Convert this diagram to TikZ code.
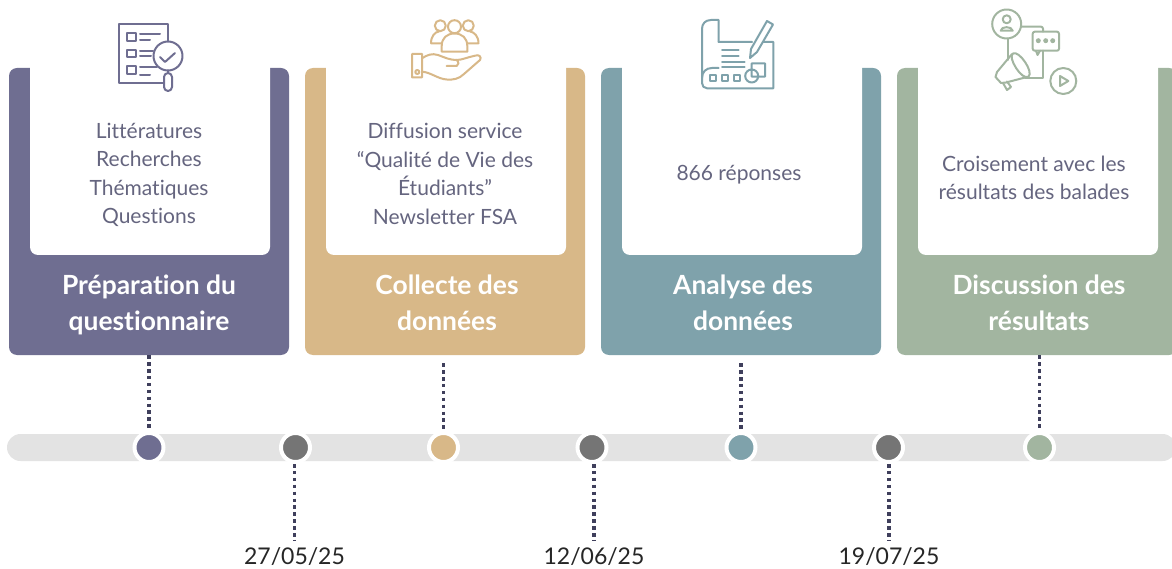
\documentclass[tikz,border=0pt]{standalone}
\usepackage{fontspec}
\setmainfont[Ligatures=NoCommon]{Lato}
\usetikzlibrary{positioning}

\definecolor{prepcol}{HTML}{6F6E91}
\definecolor{collcol}{HTML}{D8B888}
\definecolor{anacol}{HTML}{7FA2AB}
\definecolor{disccol}{HTML}{A2B5A0}
\definecolor{bodycol}{HTML}{65657F}
\definecolor{stemcol}{HTML}{3F3F5C}
\definecolor{datecol}{HTML}{757575}

\tikzset{
    card/.style={fill=#1,rounded corners=8pt,minimum width=280pt,minimum height=287pt,inner sep=0pt},
    notch/.style={fill=white,rounded corners=8pt,minimum width=240pt,minimum height=200pt,inner sep=0pt},
    title/.style={text=white,font=\fontsize{26.4}{36}\selectfont\bfseries,align=center},
    body/.style={text=bodycol,font=\fontsize{21}{28.5}\selectfont,align=center},
    stem/.style={stemcol,line width=3.5pt,dash pattern=on 3.5pt off 3.4pt},
    mark/.style={circle,fill=#1,draw=white,line width=4pt,minimum size=29pt,inner sep=0pt},
    date/.style={text=black!85,font=\fontsize{23}{26}\selectfont},
    icon/.style={draw=#1,line width=2pt,line join=round,line cap=round}
}

\begin{document}
\begin{tikzpicture}[x=1pt,y=-1pt]
    \clip (0,0) rectangle (1172,569);

    % Timeline bar
    \fill[black!11,rounded corners=13.5pt] (7,434) rectangle (1176,461);

    % Cards
    \node[card=prepcol] (card1) at (149,211.5) {};
    \node[card=collcol] (card2) at (445,211.5) {};
    \node[card=anacol] (card3) at (741,211.5) {};
    \node[card=disccol] (card4) at (1037,211.5) {};

    % White inner parts
    \node[notch] (notch1) at (150,155) {};
    \node[notch] (notch2) at (446,155) {};
    \node[notch] (notch3) at (742,155) {};
    \node[notch] (notch4) at (1038,155) {};

    % Card texts
    \node[body] (text1) at (149,175) {Littératures\\Recherches\\Thématiques\\Questions};
    \node[body] (text2) at (445,174) {Diffusion service\\“Qualité de Vie des\\Étudiants”\\Newsletter FSA};
    \node[body] (text3) at (739,175) {866 réponses};
    \node[body] (text4) at (1034,178) {Croisement avec les\\résultats des balades};
    \node[title] (title1) at (149,305) {Préparation du\\questionnaire};
    \node[title] (title2) at (447,303) {Collecte des\\données};
    \node[title] (title3) at (743,303) {Analyse des\\données};
    \node[title] (title4) at (1039,303) {Discussion des\\résultats};

    % Timeline marks
    \node[mark=prepcol] (mark1) at (149,447.5) {};
    \node[mark=datecol] (mark2) at (295.5,447.5) {};
    \node[mark=collcol] (mark3) at (443.5,447.5) {};
    \node[mark=datecol] (mark4) at (592,447.5) {};
    \node[mark=anacol] (mark5) at (741,447.5) {};
    \node[mark=datecol] (mark6) at (888.5,447.5) {};
    \node[mark=disccol] (mark7) at (1039.5,447.5) {};

    % Dates
    \node[date] (date1) at (294.5,557) {27/05/25};
    \node[date] (date2) at (594,557) {12/06/25};
    \node[date] (date3) at (889,557) {19/07/25};

    % Dotted stems
    \draw[stem,shorten >=2pt] (card1.south -| mark1) -- (mark1.north);
    \draw[stem,shorten <=8pt,shorten >=2pt] (card2.south -| mark3) -- (mark3.north);
    \draw[stem,shorten <=8pt,shorten >=2pt] (card3.south -| mark5) -- (mark5.north);
    \draw[stem,shorten >=2pt] (card4.south -| mark7) -- (mark7.north);
    \draw[stem,shorten >=3pt] (mark2.south -| date1) -- (date1.north);
    \draw[stem,shorten >=3pt] (mark4.south -| date2) -- (date2.north);
    \draw[stem,shorten >=3pt] (mark6.south -| date3) -- (date3.north);

    % Icon: checklist and magnifier
    \draw[icon=prepcol] (168,42) -- (168,24) -- (118.7,24) -- (118.7,83) -- (163,83);
    \draw[icon=prepcol] (127,33.5) rectangle (136,41.5) (127,50) rectangle (136,57.5) (127,66) rectangle (136,74);
    \draw[icon=prepcol] (140,34.5) -- (160,34.5) (140,40) -- (150,40) (140,51) -- (153,51) (140,56.5) -- (151,56.5) (140,67.5) -- (157,67.5) (140,75) -- (150,75);
    \draw[icon=prepcol,fill=white] (168,56) circle (14.5);
    \draw[icon=prepcol] (160,57) -- (165,62) -- (175,53) (168,70.5) -- (168,73);
    \draw[icon=prepcol,rounded corners=4pt] (164,73) rectangle (172,91);

    % Icon: people over a hand
    \draw[icon=collcol] (440.3,25.7) circle (5.5) (468.3,25.7) circle (5.5);
    \draw[icon=collcol] (431,43.3) -- (441,43.3) (431,43.3) .. controls (431,36) and (435,32) .. (439,31.5);
    \draw[icon=collcol] (478.5,43.3) -- (468,43.3) (478.5,43.3) .. controls (478.5,36) and (474,32) .. (470,31.5);
    \draw[icon=collcol,fill=white] (454.5,26.7) circle (6.5);
    \draw[icon=collcol,fill=white] (441.7,51.7) -- (441.7,46) .. controls (441.7,38) and (447,33.5) .. (454.5,33.5) .. controls (462,33.5) and (467.3,38) .. (467.3,46) -- (467.3,51.7) -- cycle;
    \draw[icon=collcol] (412,54) rectangle (422,77.3) (417.3,72) circle (2);
    \draw[icon=collcol] (422,58.3) .. controls (427,55) and (432,53) .. (438,55) .. controls (446,58) and (450,60) .. (456.7,60) .. controls (459,62) and (459,65) .. (456.7,66) -- (446.7,66);
    \draw[icon=collcol] (456.7,60) .. controls (462,60) and (468,57) .. (475,55.7) .. controls (479,54) and (482,57) .. (480,60) -- (464,74) .. controls (459,79) and (453,80) .. (446.7,79.5) .. controls (438,79) and (430,72) .. (422,71.7);

    % Icon: plan with pencil
    \draw[icon=anacol] (718.7,42) -- (718.7,20) -- (711,20) .. controls (705,20) and (702,24) .. (702,29) -- (702,83) .. controls (702,86) and (704,88.3) .. (707,88.3) -- (773.3,88.3) -- (773.3,42) -- (759,42);
    \draw[icon=anacol] (718.7,42) -- (752,42) (718.7,68) -- (712,68) .. controls (706,68) and (702,72) .. (702,78);
    \draw[icon=anacol] (722,50) -- (738.7,50) (722,56) -- (738.7,56) (722,62) -- (744.7,62) (722,67) -- (744.7,67);
    \draw[icon=anacol] (710,75) rectangle (716.3,81) (722,75) rectangle (728,81) (733.5,75) rectangle (739.5,81);
    \draw[icon=anacol] (751.7,63.3) rectangle (765,76.7) (751.7,76) circle (6.5);
    \draw[icon=anacol,fill=white] (750,58) -- (751,49) -- (767,21) -- (773,24.5) -- (757,52) -- cycle;

    % Icon: contact, message, megaphone, video
    \draw[icon=disccol] (1006.7,24) circle (14.5) (1006.7,19.3) circle (4);
    \draw[icon=disccol] (1000.7,30.7) .. controls (1001,26) and (1012,26) .. (1012.7,30.7) -- cycle;
    \draw[icon=disccol,rounded corners=2pt] (1021,26.7) -- (1043,26.7) -- (1043,31.7);
    \draw[icon=disccol,rounded corners=2pt] (1032.7,31.7) rectangle (1059,50.7);
    \draw[icon=disccol] (1036,50.7) -- (1037.5,55) -- (1040,50.7);
    \fill[disccol] (1038.3,40.7) circle (2.5) (1045.7,40.7) circle (2.5) (1052.7,40.7) circle (2.5);
    \draw[icon=disccol] (1043,50.7) -- (1043,78.3) -- (1025,78.3) (1008.3,38.3) -- (1008.3,60);
    \draw[icon=disccol] (1012,54) -- (997,72) -- (995.5,77) -- (1001,83) -- (1006,82.5) -- (1027,77);
    \draw[icon=disccol] (1003,83) -- (1007,90) -- (1011,87) -- (1007,81.5);
    \draw[icon=disccol,fill=white] (1013,53.5) .. controls (1007,57) and (1022,81) .. (1028.5,76.7) .. controls (1034,72) and (1019,50) .. (1013,53.5) -- cycle;
    \draw[icon=disccol] (1063.3,81) circle (13);
    \draw[icon=disccol] (1060,76) -- (1068.3,81) -- (1060,86) -- cycle;
\end{tikzpicture}
\end{document}
